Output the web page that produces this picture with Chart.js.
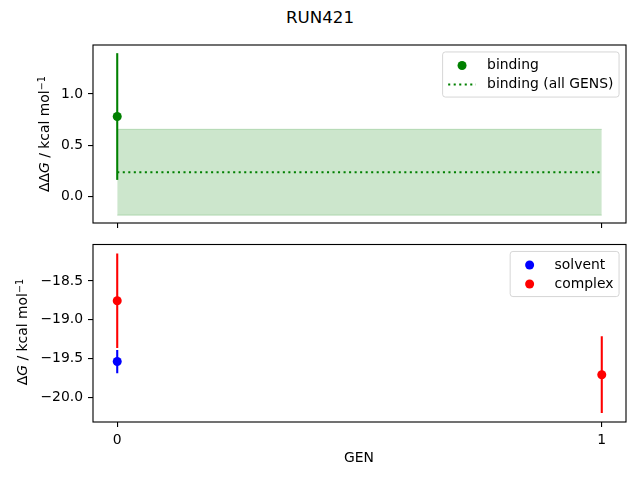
<!DOCTYPE html>
<html>
<head>
<meta charset="utf-8">
<script src="https://cdn.jsdelivr.net/npm/chart.js@4/dist/chart.umd.min.js"></script>
<style>
  body { margin: 0; background: #fff; }
  #fig { position: relative; width: 640px; height: 480px; font-family: 'DejaVu Sans', sans-serif; color: #000; }
  canvas { position: absolute; left: 0; }
  .lbl { position: absolute; white-space: nowrap; font-size: 13.9px; transform: translate(-50%, -50%); }
  .rot { transform: translate(-50%, -50%) rotate(-90deg); }
  sup { font-size: 70%; vertical-align: 0.45em; line-height: 0; }
</style>
</head>
<body>
<div id="fig">
  <div class="lbl" style="left:320px; top:17px; font-size:16.7px;">RUN421</div>
  <canvas id="topChart" width="640" height="240" style="top:0"></canvas>
  <canvas id="bottomChart" width="640" height="240" style="top:240px"></canvas>
  <div class="lbl rot" style="left:44px; top:134px;">ΔΔ<i>G</i> / kcal mol<sup>−1</sup></div>
  <div class="lbl rot" style="left:22px; top:332px;">Δ<i>G</i> / kcal mol<sup>−1</sup></div>
  <div class="lbl" style="left:359px; top:457px;">GEN</div>
</div>
<script>
// Data
const gens = [0, 1];
const bindingGens = [0];
const bindingValues = [0.78];
const bindingErrors = [0.62];
const bindingAll = 0.235;
const bindingAllError = 0.42;

const solventGens = [0];
const solventValues = [-19.54];
const solventErrors = [0.15];

const complexGens = [0, 1];
const complexValues = [-18.755, -19.71];
const complexErrors = [0.61, 0.495];

const topTicks = [0.0, 0.5, 1.0];
const bottomTicks = [-20.0, -19.5, -19.0, -18.5];

const FS = 13.9;
const FONT = 'DejaVu Sans';
const LW = 2.08;
const MARK_R = 4.5;

function points(xs, ys) {
    return xs.map((x, i) => ({ x: x, y: ys[i] }));
}

// vertical error bar segments, separated by gaps
function errorSegments(xs, ys, errs) {
    const out = [];
    xs.forEach((x, i) => {
        out.push({ x: x, y: ys[i] - errs[i] });
        out.push({ x: x, y: ys[i] + errs[i] });
        out.push({ x: x, y: null });
    });
    return out;
}

function fmtTick(v) {
    return v.toFixed(1).replace('-', '\u2212');
}

function noPad(s) {
    s.paddingTop = 0;
    s.paddingBottom = 0;
    s.paddingLeft = 0;
    s.paddingRight = 0;
}

// spines on all four sides
const framePlugin = {
    id: 'frame',
    afterDatasetsDraw(chart) {
        const a = chart.chartArea;
        const ctx = chart.ctx;
        ctx.save();
        ctx.strokeStyle = '#000';
        ctx.lineWidth = 1.11;
        ctx.strokeRect(a.left, a.top, a.right - a.left, a.bottom - a.top);
        ctx.restore();
    }
};

// matplotlib style legend in the upper right corner of the axes
const boxLegendPlugin = {
    id: 'boxLegend',
    afterDraw(chart, args, opts) {
        const items = opts.items || [];
        if (!items.length) return;
        const ctx = chart.ctx;
        const a = chart.chartArea;
        ctx.save();
        ctx.font = FS + 'px "' + FONT + '"';
        const pad = 5.56, handleLen = 27.8, textPad = 11.1, rowH = 14, gap = 5, edge = 6.95;
        let textW = 0;
        items.forEach(it => { textW = Math.max(textW, ctx.measureText(it.text).width); });
        const w = pad * 2 + handleLen + textPad + textW;
        const h = pad * 2 + items.length * rowH + (items.length - 1) * gap + 1;
        const x0 = a.right - edge - w;
        const y0 = a.top + edge;
        ctx.beginPath();
        ctx.roundRect(x0, y0, w, h, 2.8);
        ctx.fillStyle = 'rgba(255,255,255,0.8)';
        ctx.fill();
        ctx.strokeStyle = 'rgba(204,204,204,0.8)';
        ctx.lineWidth = 1;
        ctx.stroke();
        items.forEach((it, i) => {
            const cy = y0 + pad + 1 + rowH / 2 + i * (rowH + gap);
            const hx = x0 + pad;
            if (it.type === 'marker') {
                ctx.beginPath();
                ctx.arc(hx + handleLen / 2, cy, MARK_R, 0, Math.PI * 2);
                ctx.fillStyle = it.color;
                ctx.fill();
            } else {
                ctx.beginPath();
                ctx.setLineDash([2.08, 3.44]);
                ctx.moveTo(hx, cy);
                ctx.lineTo(hx + handleLen, cy);
                ctx.strokeStyle = it.color;
                ctx.lineWidth = LW;
                ctx.stroke();
                ctx.setLineDash([]);
            }
            ctx.fillStyle = '#000';
            ctx.textBaseline = 'middle';
            ctx.fillText(it.text, hx + handleLen + textPad, cy);
        });
        ctx.restore();
    }
};

function axisOptions(cfg) {
    return {
        x: {
            type: 'linear',
            min: -0.05,
            max: 1.05,
            afterBuildTicks: s => { s.ticks = gens.map(v => ({ value: v })); },
            afterFit: s => { s.height = cfg.xHeight; noPad(s); },
            grid: { drawOnChartArea: false, drawTicks: true, tickLength: 5, color: '#000', lineWidth: 1.11 },
            border: { display: false },
            ticks: {
                color: '#000',
                padding: 5,
                maxRotation: 0,
                font: { family: FONT, size: FS },
                callback: v => cfg.xLabels ? String(v) : ''
            }
        },
        y: {
            type: 'linear',
            min: cfg.yMin,
            max: cfg.yMax,
            afterBuildTicks: s => { s.ticks = cfg.yTicks.map(v => ({ value: v })); },
            afterFit: s => { s.width = 93; noPad(s); },
            grid: { drawOnChartArea: false, drawTicks: true, tickLength: 5, color: '#000', lineWidth: 1.11 },
            border: { display: false },
            ticks: {
                color: '#000',
                padding: 5,
                font: { family: FONT, size: FS },
                callback: v => fmtTick(v)
            }
        }
    };
}

function initTopChart() {
    const ctx = document.getElementById('topChart');
    new Chart(ctx, {
        type: 'scatter',
        data: {
            datasets: [{
                label: 'binding',
                data: points(bindingGens, bindingValues),
                backgroundColor: '#008000',
                pointRadius: MARK_R,
                pointBorderWidth: 0
            }, {
                type: 'line',
                label: 'binding err',
                data: errorSegments(bindingGens, bindingValues, bindingErrors),
                borderColor: '#008000',
                borderWidth: LW,
                pointRadius: 0,
                spanGaps: false
            }, {
                type: 'line',
                label: 'binding (all GENS)',
                data: gens.map(x => ({ x: x, y: bindingAll })),
                borderColor: '#008000',
                borderWidth: LW,
                borderDash: [2.08, 3.44],
                pointRadius: 0
            }, {
                type: 'line',
                label: 'band upper',
                data: gens.map(x => ({ x: x, y: bindingAll + bindingAllError })),
                borderColor: 'rgba(0,128,0,0.2)',
                borderWidth: 1,
                backgroundColor: 'rgba(0,128,0,0.2)',
                pointRadius: 0,
                fill: '+1'
            }, {
                type: 'line',
                label: 'band lower',
                data: gens.map(x => ({ x: x, y: bindingAll - bindingAllError })),
                borderColor: 'rgba(0,128,0,0.2)',
                borderWidth: 1,
                pointRadius: 0,
                fill: false
            }]
        },
        options: {
            responsive: false,
            animation: false,
            layout: { padding: { top: 45, right: 14, left: 0, bottom: 0 } },
            scales: axisOptions({ xHeight: 17, xLabels: false, yMin: -0.262, yMax: 1.48, yTicks: topTicks }),
            plugins: {
                legend: { display: false },
                tooltip: { enabled: false },
                boxLegend: {
                    items: [
                        { type: 'marker', color: '#008000', text: 'binding' },
                        { type: 'dotted', color: '#008000', text: 'binding (all GENS)' }
                    ]
                }
            }
        },
        plugins: [framePlugin, boxLegendPlugin]
    });
}

function initBottomChart() {
    const ctx = document.getElementById('bottomChart');
    new Chart(ctx, {
        type: 'scatter',
        data: {
            datasets: [{
                label: 'complex',
                data: points(complexGens, complexValues),
                backgroundColor: '#ff0000',
                pointRadius: MARK_R,
                pointBorderWidth: 0
            }, {
                label: 'solvent',
                data: points(solventGens, solventValues),
                backgroundColor: '#0000ff',
                pointRadius: MARK_R,
                pointBorderWidth: 0
            }, {
                type: 'line',
                label: 'complex err',
                data: errorSegments(complexGens, complexValues, complexErrors),
                borderColor: '#ff0000',
                borderWidth: LW,
                pointRadius: 0,
                spanGaps: false
            }, {
                type: 'line',
                label: 'solvent err',
                data: errorSegments(solventGens, solventValues, solventErrors),
                borderColor: '#0000ff',
                borderWidth: LW,
                pointRadius: 0,
                spanGaps: false
            }]
        },
        options: {
            responsive: false,
            animation: false,
            layout: { padding: { top: 2, right: 14, left: 0, bottom: 0 } },
            scales: axisOptions({ xHeight: 58, xLabels: true, yMin: -20.32, yMax: -18.03, yTicks: bottomTicks }),
            plugins: {
                legend: { display: false },
                tooltip: { enabled: false },
                boxLegend: {
                    items: [
                        { type: 'marker', color: '#0000ff', text: 'solvent' },
                        { type: 'marker', color: '#ff0000', text: 'complex' }
                    ]
                }
            }
        },
        plugins: [framePlugin, boxLegendPlugin]
    });
}

initTopChart();
initBottomChart();
</script>
</body>
</html>
